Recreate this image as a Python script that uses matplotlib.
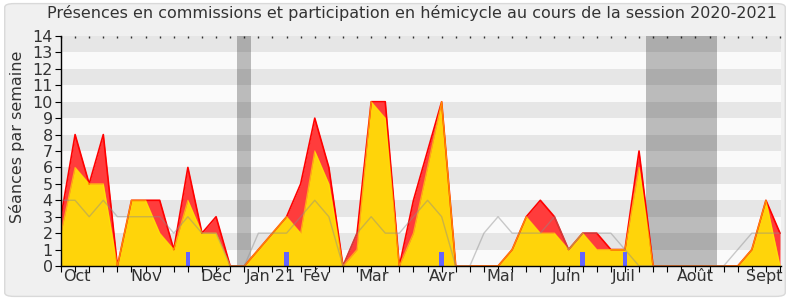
import matplotlib
matplotlib.use("Agg")
import matplotlib.pyplot as plt
from matplotlib.patches import FancyBboxPatch
import numpy as np

# semaines de la session (index 0 = fin septembre 2020)
semaines = np.arange(52)

# présences en commissions + hémicycle (zone rouge, total)
total = [3, 8, 5, 8, 0, 4, 4, 4, 1, 6, 2, 3, 0, 0, 1, 2, 3, 5, 9, 6,
         0, 2, 10, 10, 0, 4, 7, 10, 0, 0, 0, 0, 1, 3, 4, 3, 1, 2, 2, 1,
         1, 7, 0, 0, 0, 0, 0, 0, 0, 1, 4, 2]
# présences en commissions (zone jaune)
commissions = [2, 6, 5, 5, 0, 4, 4, 2, 1, 4, 2, 2, 0, 0, 1, 2, 3, 2, 7, 5,
               0, 1, 10, 9, 0, 2, 6, 10, 0, 0, 0, 0, 1, 3, 2, 2, 1, 2, 1, 1,
               1, 6, 0, 0, 0, 0, 0, 0, 0, 1, 4, 0]
# médiane des députés (ligne grise)
mediane = [4, 4, 3, 4, 3, 3, 3, 3, 2, 3, 2, 2, 0, 0, 2, 2, 2, 3, 4, 3,
           0, 2, 3, 2, 2, 3, 4, 3, 0, 0, 2, 3, 2, 2, 2, 3, 1, 2, 2, 2,
           1, 0, 0, 0, 0, 0, 0, 0, 1, 2, 2, 2]
# questions orales (barres bleues)
questions_sem = [9, 16, 27, 37, 40]
questions_val = [0.87, 0.87, 0.87, 0.87, 0.87]
# vacances parlementaires (en semaines)
vacances = [(12.5, 13.5), (41.5, 46.5)]

mois = ["Oct", "Nov", "Déc", "Jan 21", "Fév", "Mar", "Avr", "Mai",
        "Juin", "Juil", "Août", "Sept"]
mois_pos = [1.13, 6.0, 11.0, 14.9, 18.1, 22.2, 27.0, 31.2, 35.9, 39.9, 45.0, 49.9]

fig = plt.figure(figsize=(7.9, 3.0), dpi=100)
fig.patch.set_facecolor("white")
fond = FancyBboxPatch((0.006, 0.012), 0.988, 0.976,
                      boxstyle="round,pad=0,rounding_size=0.012",
                      transform=fig.transFigure, fc="#f0f0f0", ec="#d9d9d9", lw=1,
                      zorder=-10)
fig.patches.append(fond)

ax = fig.add_axes([61 / 790, 34 / 300, 720 / 790, 230 / 300])
ax.set_xlim(0, 51.07)
ax.set_ylim(0, 14)

# bandes horizontales alternées
for k in range(14):
    ax.axhspan(k, k + 1, color="#e6e6e6" if k % 2 else "#fafafa", lw=0, zorder=0)

for debut, fin in vacances:
    ax.axvspan(debut, fin, color="black", alpha=0.25, lw=0, zorder=1)

ax.fill_between(semaines, total, color="#ff3c3c", lw=0, zorder=2)
ax.fill_between(semaines, commissions, color="#ffd40a", lw=0, zorder=3)
ax.plot(semaines, total, color="#ff0000", lw=1.2, zorder=4)
ax.plot(semaines, commissions, color="#ffee00", lw=0.9, alpha=0.6, zorder=5)
ax.bar(questions_sem, questions_val, width=0.33, color="#6464ff", zorder=6)
ax.plot(semaines, mediane, color="#8c8c8c", lw=1, alpha=0.45, zorder=7)

for s in ["top", "right"]:
    ax.spines[s].set_visible(False)
for s in ["left", "bottom"]:
    ax.spines[s].set_color("black")
    ax.spines[s].set_linewidth(1)
    ax.spines[s].set_zorder(8)

ax.set_yticks(range(15))
ax.tick_params(axis="y", labelsize=11.5, labelcolor="#333333", length=4, pad=2)
ax.xaxis.remove_overlapping_locs = False
ax.set_xticks(semaines)
ax.set_xticklabels([])
ax.tick_params(axis="x", which="major", length=4)
ax.set_xticks(mois_pos, minor=True)
ax.set_xticklabels(mois, minor=True)
ax.tick_params(axis="x", which="minor", length=0, labelsize=11.5, labelcolor="#333333", pad=2)

haut = ax.secondary_xaxis("top")
haut.set_xticks(semaines)
haut.set_xticklabels([])
haut.tick_params(axis="x", direction="in", length=1.5, width=1, color="#333333")
haut.spines["top"].set_visible(False)

fig.text(412 / 790, 1 - 13 / 300,
         "Présences en commissions et participation en hémicycle au cours de la session 2020-2021",
         ha="center", va="center", fontsize=11.5, color="#333333")
fig.text(17 / 790, 1 - 137 / 300, "Séances par semaine", rotation=90,
         ha="center", va="center", fontsize=11.5, color="#333333")

fig.savefig("out.png", dpi=100)
